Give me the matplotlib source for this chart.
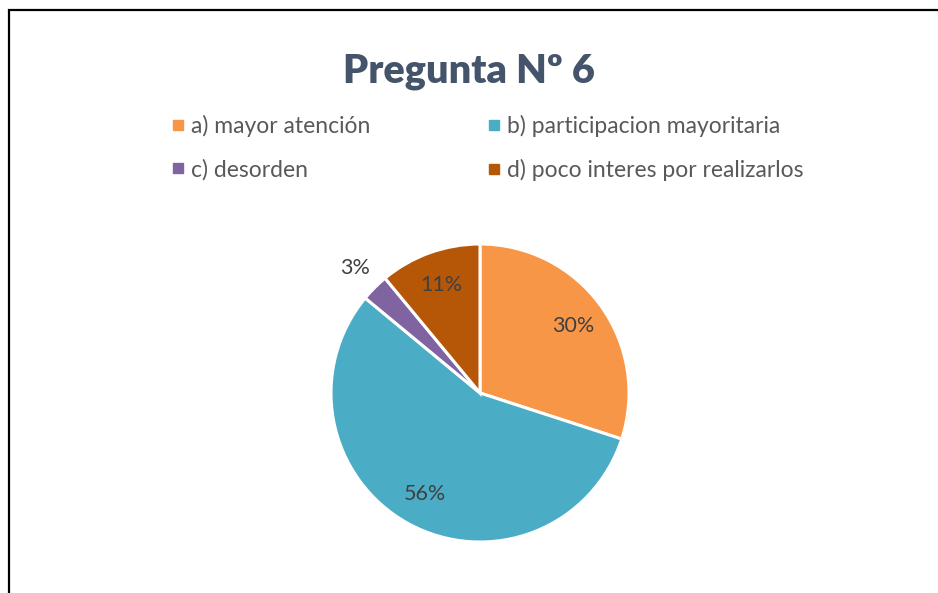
import numpy as np
import matplotlib
matplotlib.use('Agg')
import matplotlib.pyplot as plt
from matplotlib.patches import Rectangle
from matplotlib.lines import Line2D

labels = ['a) mayor atención', 'b) participacion mayoritaria',
          'c) desorden', 'd) poco interes por realizarlos']
values = [30, 56, 3, 11]
colors = ['#F79646', '#4BACC6', '#8064A2', '#B65708']

plt.rcParams['font.family'] = ['Lato', 'DejaVu Sans']

W, H = 938, 593
fig = plt.figure(figsize=(W / 100, H / 100), dpi=100)
fig.patch.set_facecolor('white')

# outer frame (cut off at right / bottom like the screenshot)
fig.patches.append(Rectangle((9 / W, -0.05), 1.2, 1 - 10 / H + 0.05,
                             transform=fig.transFigure, fill=False,
                             edgecolor='black', linewidth=1.6))

fig.text(469 / W, 1 - 72 / H, 'Pregunta Nº 6', ha='center', va='center',
         fontsize=28.5, fontweight='heavy', color='#44546A')

cx, cy, r = 480, 393, 149
ax = fig.add_axes([(cx - r) / W, (H - cy - r) / H, 2 * r / W, 2 * r / H])
wedges, _ = ax.pie(values, colors=colors, startangle=90, counterclock=False,
                   wedgeprops=dict(edgecolor='white', linewidth=2.2))
ax.set_xlim(-1, 1)
ax.set_ylim(-1, 1)
ax.set_aspect('equal')
ax.axis('off')

for w, v in zip(wedges, values):
    ang = np.deg2rad((w.theta1 + w.theta2) / 2)
    d = 1.19 if v < 5 else 0.77
    ax.text(d * np.cos(ang), d * np.sin(ang), f'{v}%', ha='center',
            va='center', fontsize=15.5, color='#404040')

handles = [Line2D([], [], marker='s', linestyle='', markersize=7,
                  color=c) for c in colors]
order = [0, 2, 1, 3]
fig.legend([handles[i] for i in order], [labels[i] for i in order],
           ncol=2, loc='center', bbox_to_anchor=(486 / W, 1 - 148 / H),
           frameon=False, fontsize=16.5, labelcolor='#595959',
           handletextpad=0.15, handlelength=0.8, columnspacing=5.0,
           labelspacing=0.95)

fig.savefig('out.png', dpi=100, facecolor='white')
